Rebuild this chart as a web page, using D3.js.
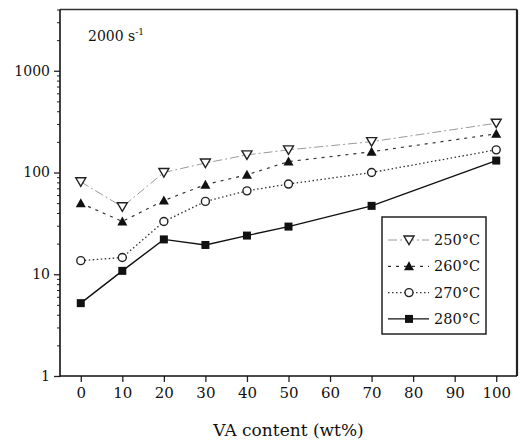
<!DOCTYPE html>
<html><head><meta charset="utf-8">
<script src="https://cdn.jsdelivr.net/npm/d3@7/dist/d3.min.js"></script>
<style>body{margin:0;background:#fff}svg{display:block}</style>
</head><body>
<script>
const vaContent = [0, 10, 20, 30, 40, 50, 70, 100];
const xTicks = [0, 10, 20, 30, 40, 50, 60, 70, 80, 90, 100];
const yTickLabels = [1, 10, 100, 1000];
const seriesNames = ["250°C", "260°C", "270°C", "280°C"];
const s250 = [81, 46, 100, 124, 149, 167, 201, 305];
const s260 = [50, 33, 53, 76, 95, 128, 160, 240];
const s270 = [13.6, 14.6, 33, 52, 66, 77, 100, 167];
const s280 = [5.2, 10.8, 22, 19.4, 24, 29.4, 47, 131];
const seriesValues = [s250, s260, s270, s280];

const FONT = "'DejaVu Serif'";
const W = 520, H = 442;
const L = 60, R = 517, T = 9.5, B = 376;
const svg = d3.select("body").append("svg").attr("width", W).attr("height", H)
  .style("font-family", FONT);
const x = d3.scaleLinear().domain([-5, 105]).range([L, R]);
const y = d3.scaleLog().domain([1, 4000]).range([B, T]);

const minor = [];
for (let d = 1; d <= 1000; d *= 10) for (let k = 2; k <= 9; k++) if (d * k <= 4000) minor.push(d * k);
svg.append("g").attr("transform", `translate(${L},0)`)
  .call(d3.axisLeft(y).tickValues(minor).tickSize(3).tickFormat(""))
  .call(g => g.select(".domain").remove())
  .call(g => g.selectAll("line").attr("stroke", "#222").attr("stroke-width", 1));
svg.append("g").attr("transform", `translate(${L},0)`)
  .call(d3.axisLeft(y).tickValues(yTickLabels).tickSize(6).tickPadding(4).tickFormat(d3.format("d")))
  .attr("font-family", null).attr("font-size", null)
  .call(g => g.select(".domain").remove())
  .call(g => g.selectAll("line").attr("stroke", "#222").attr("stroke-width", 1.3))
  .call(g => g.selectAll("text").style("font-family", FONT).style("font-size", "14px").attr("fill", "#111"));
svg.append("g").attr("transform", `translate(0,${B})`)
  .call(d3.axisBottom(x).tickValues(xTicks).tickSize(6).tickPadding(5).tickFormat(d3.format("d")))
  .attr("font-family", null).attr("font-size", null)
  .call(g => g.select(".domain").remove())
  .call(g => g.selectAll("line").attr("stroke", "#222").attr("stroke-width", 1.3))
  .call(g => g.selectAll("text").style("font-family", FONT).style("font-size", "15px").attr("fill", "#111"));

svg.append("line").attr("x1", L).attr("x2", R).attr("y1", T).attr("y2", T).attr("stroke", "#333").attr("stroke-width", 1.5);
svg.append("line").attr("x1", R).attr("x2", R).attr("y1", T).attr("y2", B).attr("stroke", "#222").attr("stroke-width", 2.2);
svg.append("line").attr("x1", L).attr("x2", L).attr("y1", T).attr("y2", B + 0.7).attr("stroke", "#111").attr("stroke-width", 1.6);
svg.append("line").attr("x1", L).attr("x2", R).attr("y1", B).attr("y2", B).attr("stroke", "#111").attr("stroke-width", 1.6);

const styles = [
  {stroke: "#9a9a9a", width: 1, dash: "9,3,2,3", marker: "tri-down"},
  {stroke: "#333", width: 1.2, dash: "3,5", marker: "tri-up"},
  {stroke: "#333", width: 1.3, dash: "1.5,2.5", marker: "circle"},
  {stroke: "#111", width: 1.4, dash: null, marker: "square"}
];

function drawMarker(g, type, cx, cy) {
  if (type === "tri-down") {
    g.append("path").attr("d", `M${cx-5},${cy-4}L${cx+5},${cy-4}L${cx},${cy+4.5}Z`)
      .attr("fill", "#fff").attr("stroke", "#222").attr("stroke-width", 1.4);
  } else if (type === "tri-up") {
    g.append("path").attr("d", `M${cx-5},${cy+4}L${cx+5},${cy+4}L${cx},${cy-5}Z`).attr("fill", "#111");
  } else if (type === "circle") {
    g.append("circle").attr("cx", cx).attr("cy", cy).attr("r", 4).attr("fill", "#fff").attr("stroke", "#222").attr("stroke-width", 1.4);
  } else {
    g.append("rect").attr("x", cx - 4).attr("y", cy - 4).attr("width", 8).attr("height", 8).attr("fill", "#111");
  }
}

const line = d3.line().x((d, i) => x(vaContent[i])).y(d => y(d));
seriesValues.forEach((vals, si) => {
  const st = styles[si];
  const g = svg.append("g");
  g.append("path").datum(vals).attr("d", line).attr("fill", "none")
    .attr("stroke", st.stroke).attr("stroke-width", st.width)
    .attr("stroke-dasharray", st.dash);
  vals.forEach((v, i) => drawMarker(g, st.marker, x(vaContent[i]), y(v)));
});

const ann = svg.append("text").attr("x", 88).attr("y", 41).style("font-size", "14px").attr("fill", "#111");
ann.append("tspan").text("2000 s");
ann.append("tspan").style("font-size", "9px").attr("dy", -6).text("-1");

const lg = svg.append("g");
lg.append("rect").attr("x", 382).attr("y", 217).attr("width", 104).attr("height", 117)
  .attr("fill", "#fff").attr("stroke", "#222").attr("stroke-width", 1.5);
seriesNames.forEach((name, i) => {
  const cy = 240 + i * 26.3;
  const st = styles[i];
  lg.append("line").attr("x1", 388).attr("x2", 429).attr("y1", cy).attr("y2", cy)
    .attr("stroke", st.stroke).attr("stroke-width", st.width).attr("stroke-dasharray", st.dash);
  drawMarker(lg, st.marker, 409, cy);
  lg.append("text").attr("x", 434).attr("y", cy + 5).style("font-size", "14.5px").attr("fill", "#111").text(name);
});

svg.append("text").attr("x", (L + R) / 2).attr("y", 436).attr("text-anchor", "middle")
  .style("font-size", "17px").attr("fill", "#111").text("VA content (wt%)");
</script>
</body></html>
